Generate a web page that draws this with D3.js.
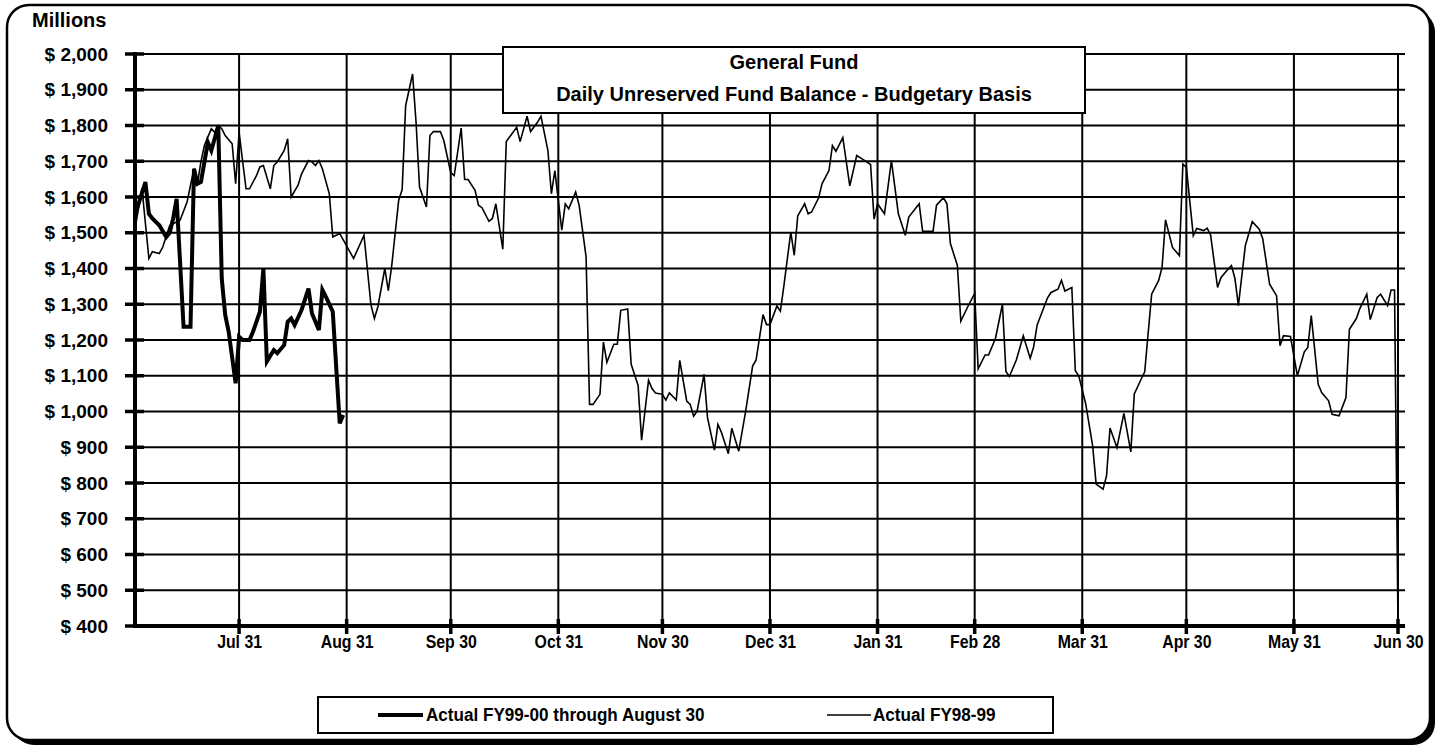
<!DOCTYPE html>
<html>
<head>
<meta charset="utf-8">
<script src="https://cdnjs.cloudflare.com/ajax/libs/d3/7.8.5/d3.min.js"></script>
<style>
  body { margin: 0; background: #fff; }
  text { font-family: "Liberation Sans", Arial, sans-serif; font-weight: bold; fill: #000; }
</style>
</head>
<body>
<svg id="chart" width="1440" height="750"></svg>
<script>
// day number counted from Jul 1 (day 0), values in $ millions
const fy9899Days = [
  0, 2, 4, 5, 7, 8, 9, 10, 13, 15, 17, 18, 19, 20, 22, 23, 24, 25, 26, 28,
  29, 30, 32, 33, 35, 36, 37, 39, 40, 41, 43, 44, 45, 47, 48, 50, 51, 52, 53, 54,
  56, 57, 59, 63, 66, 68, 69, 70, 72, 73, 74, 76, 77, 78, 80, 81, 82, 84, 85, 86,
  88, 89, 91, 92, 94, 95, 96, 98, 99, 100, 102, 103, 104, 106, 107, 110, 111, 113, 114, 116,
  117, 119, 120, 121, 123, 124, 125, 127, 128, 130, 131, 132, 134, 135, 136, 138, 139, 140, 142, 143,
  145, 146, 148, 149, 150, 152, 153, 154, 156, 157, 159, 160, 161, 162, 164, 165, 167, 168, 169, 171,
  172, 174, 176, 178, 179, 181, 182, 183, 185, 186, 187, 189, 190, 191, 193, 194, 195, 197, 198, 200,
  201, 202, 204, 205, 206, 208, 210, 212, 213, 214, 216, 218, 220, 222, 223, 226, 227, 230, 231, 233,
  234, 235, 237, 238, 240, 242, 243, 245, 246, 248, 250, 251, 252, 254, 256, 258, 259, 260, 263, 264,
  266, 267, 268, 270, 271, 272, 274, 276, 277, 279, 280, 281, 283, 285, 287, 288, 290, 291, 293, 295,
  296, 297, 299, 301, 302, 303, 305, 306, 308, 309, 310, 312, 313, 315, 316, 317, 318, 320, 322, 324,
  325, 327, 329, 330, 331, 333, 335, 337, 338, 339, 341, 342, 344, 345, 347, 349, 350, 352, 353, 355,
  356, 358, 359, 361, 362, 363, 364
];
const fy9899Values = [
  1510, 1625, 1428, 1447, 1442, 1460, 1490, 1520, 1535, 1586, 1679, 1637, 1698, 1744, 1791, 1781, 1800, 1791, 1772, 1749,
  1637, 1781, 1623, 1623, 1660, 1684, 1688, 1623, 1688, 1698, 1730, 1763, 1600, 1633, 1665, 1702, 1698, 1688, 1702, 1679,
  1609, 1488, 1498, 1428, 1493, 1298, 1260, 1293, 1400, 1338, 1409, 1591, 1621, 1856, 1944, 1809, 1628, 1572, 1772, 1783,
  1783, 1758, 1668, 1660, 1793, 1649, 1649, 1619, 1577, 1570, 1532, 1540, 1581, 1454, 1755, 1795, 1755, 1826, 1783, 1809,
  1826, 1730, 1609, 1674, 1507, 1581, 1567, 1614, 1577, 1433, 1020, 1020, 1048, 1194, 1138, 1188, 1188, 1283, 1287, 1132,
  1073, 920, 1087, 1064, 1052, 1048, 1032, 1052, 1032, 1143, 1029, 1020, 987, 1001, 1104, 983, 892, 964, 942, 882,
  953, 889, 1001, 1127, 1144, 1271, 1243, 1243, 1295, 1281, 1351, 1502, 1437, 1547, 1581, 1553, 1558, 1597, 1637, 1674,
  1744, 1728, 1766, 1698, 1631, 1716, 1704, 1691, 1538, 1581, 1553, 1702, 1553, 1493, 1544, 1581, 1504, 1504, 1577, 1598,
  1581, 1470, 1409, 1253, 1293, 1330, 1119, 1158, 1158, 1205, 1300, 1112, 1098, 1144, 1212, 1149, 1181, 1242, 1318, 1333,
  1342, 1367, 1337, 1347, 1114, 1100, 1021, 904, 797, 783, 820, 954, 899, 995, 887, 1049, 1091, 1111, 1328, 1366,
  1403, 1536, 1459, 1436, 1692, 1683, 1492, 1512, 1506, 1513, 1493, 1347, 1375, 1398, 1408, 1372, 1296, 1464, 1531, 1510,
  1484, 1356, 1324, 1184, 1212, 1210, 1100, 1167, 1179, 1268, 1076, 1053, 1030, 992, 988, 1039, 1230, 1260, 1288, 1328,
  1257, 1319, 1328, 1296, 1340, 1340, 400
];
const fy9900Days = [
  0, 3, 4, 5, 7, 9, 10, 11, 12, 14, 16, 17, 18, 19, 21, 22, 24, 25, 26, 27,
  29, 30, 31, 33, 34, 36, 37, 38, 40, 41, 43, 44, 45, 46, 48, 50, 51, 53, 54, 55,
  57, 59, 60
];
const fy9900Values = [
  1549, 1642, 1553, 1540, 1521, 1488, 1500, 1540, 1595, 1237, 1237, 1679, 1637, 1642, 1753, 1730, 1800, 1372, 1270, 1223,
  1079, 1209, 1200, 1200, 1223, 1279, 1400, 1140, 1172, 1163, 1186, 1251, 1260, 1242, 1284, 1344, 1274, 1228, 1340, 1321,
  1279, 967, 990
];
const tickDates = ["1998-07-31", "1998-08-31", "1998-09-30", "1998-10-31", "1998-11-30", "1998-12-31",
                   "1999-01-31", "1999-02-28", "1999-03-31", "1999-04-30", "1999-05-31", "1999-06-30"];
const tickLabels = ["Jul 31", "Aug 31", "Sep 30", "Oct 31", "Nov 30", "Dec 31",
                    "Jan 31", "Feb 28", "Mar 31", "Apr 30", "May 31", "Jun 30"];
const yTickValues = [400, 500, 600, 700, 800, 900, 1000, 1100, 1200, 1300, 1400, 1500, 1600, 1700, 1800, 1900, 2000];
const seriesNames = ["Actual FY99-00 through August 30", "Actual FY98-99"];

const start = new Date(1998, 6, 1);
const parse = d3.timeParse("%Y-%m-%d");
const toDate = d => d3.timeDay.offset(start, d);

const svg = d3.select("#chart");

// frame with shadow
svg.append("rect").attr("x", 12).attr("y", 10).attr("width", 1423).attr("height", 735)
  .attr("rx", 22).attr("fill", "#000");
svg.append("rect").attr("x", 7).attr("y", 5).attr("width", 1423).attr("height", 735)
  .attr("rx", 22).attr("fill", "#fff").attr("stroke", "#000").attr("stroke-width", 2.5);

const x = d3.scaleTime().domain([start, new Date(1999, 5, 30)]).range([135, 1398]);
const y = d3.scaleLinear().domain([400, 2000]).range([626, 54]);

// horizontal grid
svg.append("g").selectAll("line").data(yTickValues).join("line")
  .attr("x1", 125).attr("x2", 1405)
  .attr("y1", d => y(d)).attr("y2", d => y(d))
  .attr("stroke", "#000").attr("stroke-width", 2);

// vertical grid
svg.append("g").selectAll("line").data(tickDates).join("line")
  .attr("x1", d => x(parse(d))).attr("x2", d => x(parse(d)))
  .attr("y1", y(2000)).attr("y2", y(400))
  .attr("stroke", "#000").attr("stroke-width", 2);

// y ticks crossing the axis
svg.append("g").selectAll("line").data(yTickValues).join("line")
  .attr("x1", 125).attr("x2", 144)
  .attr("y1", d => y(d)).attr("y2", d => y(d))
  .attr("stroke", "#000").attr("stroke-width", 3.5);

// x ticks crossing the axis
svg.append("g").selectAll("line").data(tickDates).join("line")
  .attr("x1", d => x(parse(d))).attr("x2", d => x(parse(d)))
  .attr("y1", y(400) - 7).attr("y2", y(400) + 8)
  .attr("stroke", "#000").attr("stroke-width", 3.5);

// axes labels
const yAxis = d3.axisLeft(y).tickValues(yTickValues).tickSize(0).tickPadding(27)
  .tickFormat(d => "$ " + d3.format(",")(d));
const yg = svg.append("g").attr("transform", "translate(135,0)").call(yAxis);
yg.select(".domain").remove();
yg.selectAll("text").attr("font-size", 19).attr("font-family", null);

const xAxis = d3.axisBottom(x).tickValues(tickDates.map(parse)).tickSize(0).tickPadding(9)
  .tickFormat((d, i) => tickLabels[i]);
const xg = svg.append("g").attr("transform", "translate(0,626)").call(xAxis);
xg.select(".domain").remove();
xg.selectAll("text").attr("font-size", 18).attr("font-family", null)
  .attr("transform", "scale(0.88,1)");

// series lines
const line = d3.line().x(d => x(toDate(d[0]))).y(d => y(d[1]));
svg.append("path").datum(d3.zip(fy9899Days, fy9899Values))
  .attr("d", line).attr("fill", "none").attr("stroke", "#000").attr("stroke-width", 1.6);
svg.append("path").datum(d3.zip(fy9900Days, fy9900Values))
  .attr("d", line).attr("fill", "none").attr("stroke", "#000").attr("stroke-width", 4);

// axis lines
svg.append("line").attr("x1", 135).attr("x2", 135).attr("y1", y(2000) - 2).attr("y2", y(400) + 2)
  .attr("stroke", "#000").attr("stroke-width", 4);
svg.append("line").attr("x1", 133).attr("x2", 1405).attr("y1", y(400)).attr("y2", y(400))
  .attr("stroke", "#000").attr("stroke-width", 4);

svg.append("text").attr("x", 32).attr("y", 27).attr("font-size", 20).text("Millions");

// title box
svg.append("rect").attr("x", 503).attr("y", 47).attr("width", 582).attr("height", 66)
  .attr("fill", "#fff").attr("stroke", "#000").attr("stroke-width", 2);
svg.append("text").attr("x", 794).attr("y", 69).attr("text-anchor", "middle")
  .attr("font-size", 20).text("General Fund");
svg.append("text").attr("x", 794).attr("y", 101).attr("text-anchor", "middle")
  .attr("font-size", 20).text("Daily Unreserved Fund Balance - Budgetary Basis");

// legend
const lg = svg.append("g");
lg.append("rect").attr("x", 318).attr("y", 697).attr("width", 735).attr("height", 36)
  .attr("fill", "#fff").attr("stroke", "#000").attr("stroke-width", 2);
lg.append("line").attr("x1", 378).attr("x2", 423).attr("y1", 715).attr("y2", 715)
  .attr("stroke", "#000").attr("stroke-width", 4);
lg.append("text").attr("transform", "translate(426,721) scale(0.9,1)").attr("font-size", 19).text(seriesNames[0]);
lg.append("line").attr("x1", 827).attr("x2", 871).attr("y1", 715).attr("y2", 715)
  .attr("stroke", "#000").attr("stroke-width", 1.6);
lg.append("text").attr("transform", "translate(873,721) scale(0.9,1)").attr("font-size", 19).text(seriesNames[1]);
</script>
</body>
</html>
